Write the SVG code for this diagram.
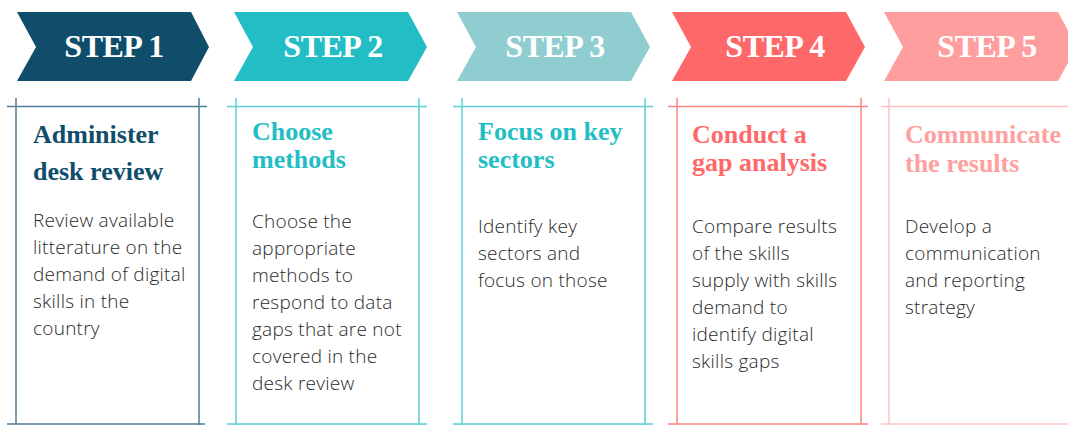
<svg xmlns="http://www.w3.org/2000/svg" width="1068" height="425" viewBox="0 0 1068 425">
  <style>
    .step-label { font-family: "Liberation Serif", "DejaVu Serif", serif; font-weight: bold; font-size: 32px; fill: #ffffff; text-anchor: middle; letter-spacing: -0.5px; }
    .heading { font-family: "Liberation Serif", "DejaVu Serif", serif; font-weight: bold; font-size: 26px; }
    .body { font-family: "Open Sans", "Liberation Sans", sans-serif; font-weight: 300; font-size: 19px; letter-spacing: 0.25px; fill: #2a2a2a; }
    .frame { fill: none; stroke-width: 1.5; }
    .s1 .chevron { fill: #0f4d6a; }
    .s1 .frame { stroke: #4f7f96; }
    .s1 .heading { fill: #0f4d6a; }
    .s2 .chevron { fill: #23bdc5; }
    .s2 .frame { stroke: #5ccfd4; }
    .s2 .heading { fill: #23bdc5; }
    .s3 .chevron { fill: #90cdd0; }
    .s3 .frame { stroke: #5ccfd4; }
    .s3 .heading { fill: #23bdc5; }
    .s4 .chevron { fill: #ff6868; }
    .s4 .frame { stroke: #ff8484; }
    .s4 .heading { fill: #ff6868; }
    .s5 .chevron { fill: #ff9e9e; }
    .s5 .frame { stroke: #ffc2c2; }
    .s5 .heading { fill: #ffa0a0; }
  </style>
  <rect width="1068" height="425" fill="#ffffff"/>

  <!-- Step 1 -->
  <g id="step1" class="s1">
    <polygon class="chevron" points="17,12 191,12 209,47 191,81 17,81 36,47"/>
    <text class="step-label" x="114" y="57">STEP 1</text>
    <path class="frame" d="M7,106.5 H207 M16,98 V426 M199,98 V426 M7,424 H205"/>
    <text class="heading"><tspan x="33" y="143">Administer</tspan><tspan x="33" y="180">desk review</tspan></text>
    <text class="body">
      <tspan x="33" y="227">Review available</tspan>
      <tspan x="33" y="254">litterature on the</tspan>
      <tspan x="33" y="281">demand of digital</tspan>
      <tspan x="33" y="308">skills in the</tspan>
      <tspan x="33" y="335">country</tspan>
    </text>
  </g>

  <!-- Step 2 -->
  <g id="step2" class="s2">
    <polygon class="chevron" points="234,12 408,12 427,47 408,81 234,81 253,47"/>
    <text class="step-label" x="333" y="57">STEP 2</text>
    <path class="frame" d="M227,106.5 H427 M236,98 V426 M419,98 V426 M227,424 H427"/>
    <text class="heading"><tspan x="252" y="140">Choose</tspan><tspan x="252" y="168">methods</tspan></text>
    <text class="body">
      <tspan x="252" y="228">Choose the</tspan>
      <tspan x="252" y="255">appropriate</tspan>
      <tspan x="252" y="282">methods to</tspan>
      <tspan x="252" y="309">respond to data</tspan>
      <tspan x="252" y="336">gaps that are not</tspan>
      <tspan x="252" y="363">covered in the</tspan>
      <tspan x="252" y="390">desk review</tspan>
    </text>
  </g>

  <!-- Step 3 -->
  <g id="step3" class="s3">
    <polygon class="chevron" points="457,12 631,12 650,47 631,81 457,81 476,47"/>
    <text class="step-label" x="555" y="57">STEP 3</text>
    <path class="frame" d="M453,106.5 H653 M462,98 V426 M645,98 V426 M453,424 H653"/>
    <text class="heading"><tspan x="478" y="140">Focus on key</tspan><tspan x="478" y="168">sectors</tspan></text>
    <text class="body">
      <tspan x="478" y="233">Identify key</tspan>
      <tspan x="478" y="260">sectors and</tspan>
      <tspan x="478" y="287">focus on those</tspan>
    </text>
  </g>

  <!-- Step 4 -->
  <g id="step4" class="s4">
    <polygon class="chevron" points="672,12 846,12 865,47 846,81 672,81 691,47"/>
    <text class="step-label" x="775" y="57">STEP 4</text>
    <path class="frame" d="M668,106.5 H868 M677,98 V426 M861,98 V426 M668,424 H868"/>
    <text class="heading"><tspan x="692" y="143">Conduct a</tspan><tspan x="692" y="171">gap analysis</tspan></text>
    <text class="body">
      <tspan x="692" y="233">Compare results</tspan>
      <tspan x="692" y="260">of the skills</tspan>
      <tspan x="692" y="287">supply with skills</tspan>
      <tspan x="692" y="314">demand to</tspan>
      <tspan x="692" y="341">identify digital</tspan>
      <tspan x="692" y="368">skills gaps</tspan>
    </text>
  </g>

  <!-- Step 5 -->
  <g id="step5" class="s5">
    <polygon class="chevron" points="884,12 1058,12 1077,47 1058,81 884,81 903,47"/>
    <text class="step-label" x="987" y="57">STEP 5</text>
    <path class="frame" d="M881,106.5 H1080 M889,98 V426 M881,424 H1080"/>
    <text class="heading"><tspan x="905" y="143">Communicate</tspan><tspan x="905" y="172">the results</tspan></text>
    <text class="body">
      <tspan x="905" y="233">Develop a</tspan>
      <tspan x="905" y="260">communication</tspan>
      <tspan x="905" y="287">and reporting</tspan>
      <tspan x="905" y="314">strategy</tspan>
    </text>
  </g>
</svg>
